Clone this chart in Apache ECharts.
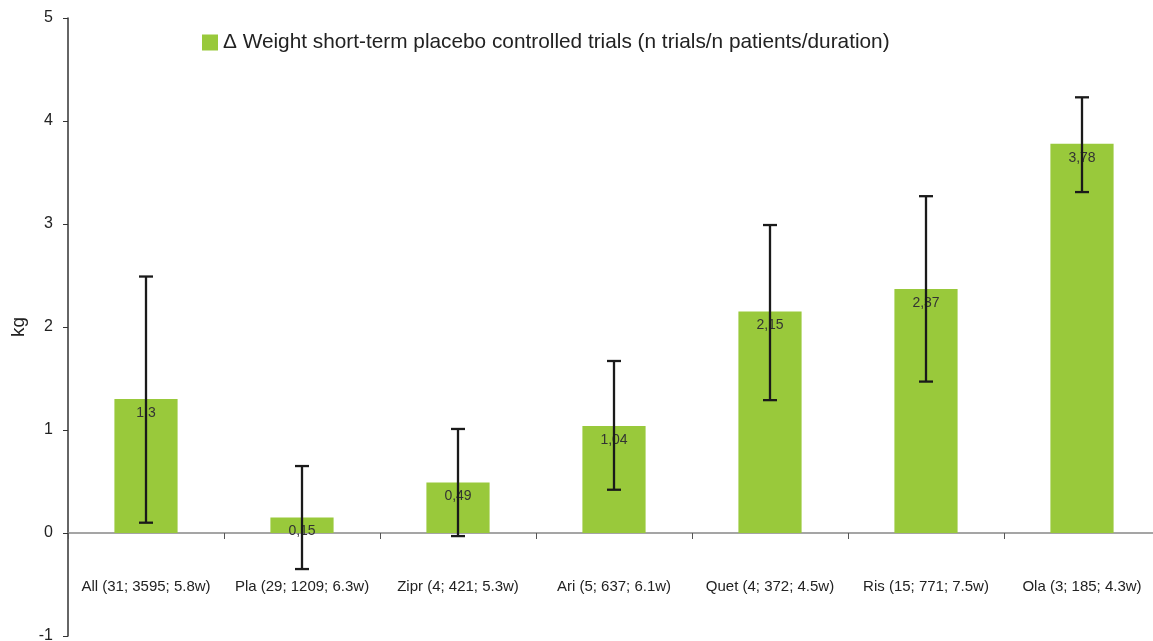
<!DOCTYPE html>
<html>
<head>
<meta charset="utf-8">
<script src="https://cdn.jsdelivr.net/npm/echarts@6/dist/echarts.min.js"></script>
<style>
  html, body { margin: 0; padding: 0; background: #fff; }
  #chart { width: 1153px; height: 641px; }
</style>
</head>
<body>
<div id="chart"></div>
<script>
// categories: drug (n trials; n patients; duration)
const categories = [
  'All (31; 3595; 5.8w)', 'Pla (29; 1209; 6.3w)', 'Zipr (4; 421; 5.3w)',
  'Ari (5; 637; 6.1w)', 'Quet (4; 372; 4.5w)', 'Ris (15; 771; 7.5w)', 'Ola (3; 185; 4.3w)'
]
const weightGain = [1.3, 0.15, 0.49, 1.04, 2.15, 2.37, 3.78]
const errLow = [0.1, -0.35, -0.03, 0.42, 1.29, 1.47, 3.31]
const errHigh = [2.49, 0.65, 1.01, 1.67, 2.99, 3.27, 4.23]
const legendName = '\u0394 Weight short-term placebo controlled trials (n trials/n patients/duration)'

const chart = echarts.init(document.getElementById('chart'))

const errorData = categories.map((c, i) => [i, errLow[i], errHigh[i]])

const option = {
  backgroundColor: '#fff',
  textStyle: { fontFamily: 'Liberation Sans, Arial, sans-serif' },
  animation: false,
  legend: {
    data: [{ name: legendName, icon: 'rect' }],
    left: 197,
    top: 27,
    itemWidth: 16,
    itemHeight: 16,
    itemGap: 8,
    textStyle: { fontSize: 20.8, color: '#222' }
  },
  grid: { left: 68, right: -7, top: 18, bottom: 5, outerBoundsMode: 'none' },
  xAxis: {
    type: 'category',
    data: categories,
    axisLine: { onZero: true, lineStyle: { color: '#888', width: 1.5 } },
    axisTick: { show: true, length: 6, lineStyle: { color: '#555' } },
    axisLabel: { color: '#222', fontSize: 15, margin: -57, interval: 0 }
  },
  yAxis: {
    type: 'value',
    min: -1,
    max: 5,
    interval: 1,
    name: 'kg',
    nameLocation: 'middle',
    nameGap: 40,
    nameRotate: 90,
    nameTextStyle: { fontSize: 19, color: '#222' },
    axisLine: { show: true, lineStyle: { color: '#333', width: 1.5 } },
    axisTick: { show: true, inside: false, length: 5, lineStyle: { color: '#333' } },
    axisLabel: { color: '#222', fontSize: 16, margin: 15 },
    splitLine: { show: false }
  },
  series: [
    {
      name: legendName,
      type: 'bar',
      data: weightGain,
      barWidth: '40.5%',
      itemStyle: { color: '#99c93b' },
      label: {
        show: true,
        position: 'insideTop',
        distance: 7,
        color: '#333',
        fontSize: 14,
        formatter: p => String(p.value).replace('.', ',')
      }
    },
    {
      type: 'custom',
      data: errorData,
      z: 10,
      renderItem: (params, api) => {
        const x = api.value(0)
        const lo = api.coord([x, api.value(1)])
        const hi = api.coord([x, api.value(2)])
        const half = 7
        const style = { stroke: '#1a1a1a', lineWidth: 2.3 }
        return {
          type: 'group',
          children: [
            { type: 'line', shape: { x1: lo[0], y1: lo[1], x2: hi[0], y2: hi[1] }, style },
            { type: 'line', shape: { x1: hi[0] - half, y1: hi[1], x2: hi[0] + half, y2: hi[1] }, style },
            { type: 'line', shape: { x1: lo[0] - half, y1: lo[1], x2: lo[0] + half, y2: lo[1] }, style }
          ]
        }
      }
    }
  ]
}

chart.setOption(option)
window.addEventListener('resize', () => chart.resize())
</script>
</body>
</html>
